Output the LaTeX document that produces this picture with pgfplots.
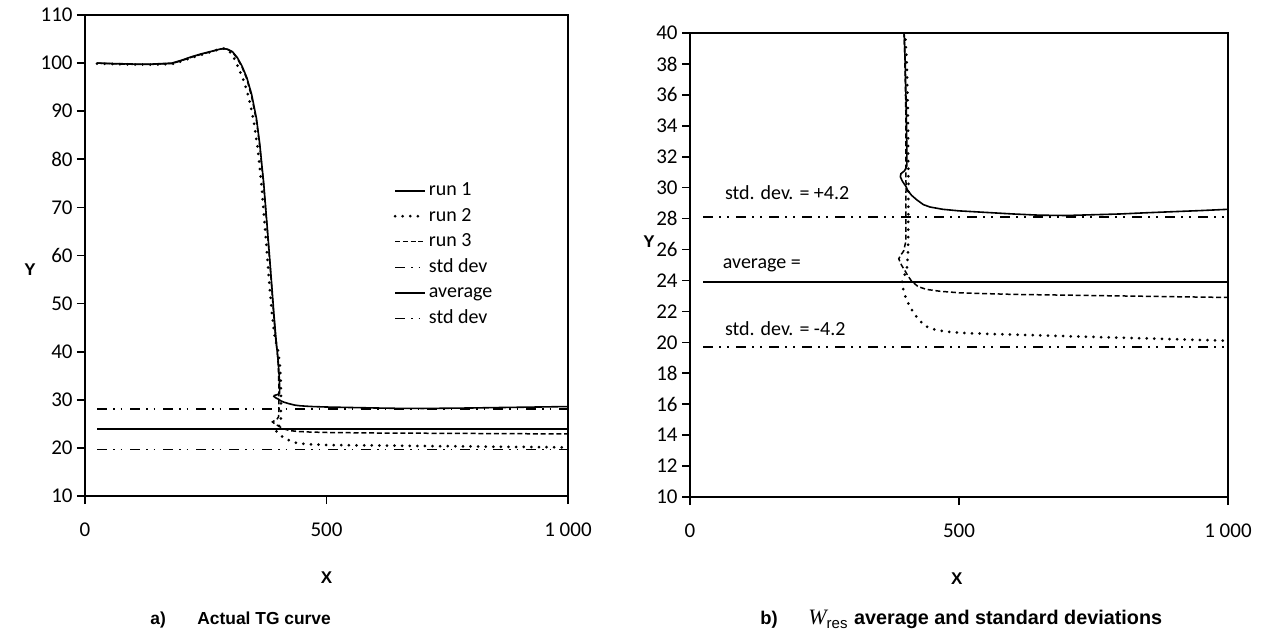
\documentclass[border=0pt]{standalone}
\usepackage{fontspec}
\setmainfont{Carlito}
\newfontfamily\arialf{Liberation Sans}
\newfontfamily\timesf{Liberation Serif}
\usepackage{pgfplots}
\usepackage{pgfplotstable}
\pgfplotsset{compat=1.18}

\pgfplotstableread{
x y
25 100.0
60 99.9
100 99.8
140 99.8
180 100.0
200 100.6
220 101.3
240 101.9
260 102.4
275 102.8
285 103.0
295 102.9
305 102.4
315 101.2
325 99.4
335 97.0
345 93.5
355 88.5
362 83.0
370 75.0
378 65.0
385 56.0
391 48.0
396 42.0
400 38.0
402 35.0
403 32.5
403 31.4
399 31.1
392 30.9
391 30.7
395 30.4
401 30.1
405 29.8
412 29.5
422 29.2
434 28.9
446 28.75
470 28.6
500 28.5
550 28.4
600 28.3
650 28.22
700 28.2
750 28.25
800 28.3
850 28.38
900 28.45
950 28.52
1000 28.6
}\runA

\pgfplotstableread{
x y
25 99.9
60 99.8
100 99.7
140 99.7
180 99.8
200 100.4
220 101.1
240 101.7
260 102.3
275 102.8
285 103.1
293 102.9
300 102.3
310 100.8
320 98.5
330 96.0
340 92.5
350 87.5
358 82.0
366 74.0
374 64.0
381 55.0
387 48.0
393 43.0
399 40.5
403 38.0
405 35.0
406 30.0
405.5 26.0
403 24.7
398 24.3
394 23.9
397 23.3
402 22.8
409 22.3
416 21.9
422 21.6
434 21.15
446 20.9
470 20.72
500 20.62
550 20.55
600 20.5
650 20.45
700 20.4
750 20.35
800 20.3
850 20.25
900 20.2
950 20.15
1000 20.1
}\runB

\pgfplotstableread{
x y
25 100.0
60 99.85
100 99.75
140 99.75
180 99.9
200 100.5
220 101.2
240 101.8
260 102.35
275 102.8
285 103.0
295 102.85
305 102.3
315 101.0
325 99.2
335 96.7
345 93.0
355 88.0
362 82.5
370 74.5
378 64.5
385 55.5
390 48.5
395 42.5
399 39.0
401 35.0
401.5 30.0
401 26.5
397 25.9
391 25.6
388 25.4
393 25.0
400 24.6
405 24.3
412 23.95
424 23.6
440 23.42
465 23.3
502 23.2
550 23.15
600 23.1
700 23.05
800 23.0
900 22.95
1000 22.9
}\runC

\pgfplotstableread{
x up avg lo
25 28.1 23.9 19.7
1000 28.1 23.9 19.7
}\stats

\tikzset{
  run1/.style={black, line width=0.8pt, solid},
  run2/.style={black, line width=1.5pt, line cap=round, dash pattern=on 0pt off 3.8pt},
  run3/.style={black, line width=0.75pt, dash pattern=on 2.5pt off 1.4pt},
  stdd/.style={black, line width=0.7pt, dash pattern=on 5pt off 3pt on 0.8pt off 3pt on 0.8pt off 3.9pt},
  avgl/.style={black, line width=0.8pt, solid},
}

\pgfplotsset{
  myaxis/.style={
    scale only axis,
    axis line style={black, line width=1pt},
    tick align=outside,
    tick style={black, line width=0.8pt},
    major tick length=4pt,
    xtick pos=bottom, ytick pos=left,
    xmin=0, xmax=1000,
    xtick={0,500,1000},
    xticklabels={0,500,1 000},
    ticklabel style={font=\fontsize{10.5}{12}\selectfont},
    yticklabel style={inner xsep=2pt},
    /pgf/number format/assume math mode=true,
    xticklabel style={yshift=-6pt},
    label style={font=\arialf\bfseries\fontsize{8.5}{10}\selectfont},
    xlabel={X}, ylabel={Y},
  }
}

\begin{document}
\begin{tikzpicture}
\useasboundingbox (0,0) rectangle (634pt,321.5pt);

% ---------- left panel ----------
\begin{axis}[myaxis,
  at={(42.5pt,73.5pt)}, anchor=south west,
  width=241.5pt, height=240.5pt,
  ymin=10, ymax=110, ytick={10,20,...,110},
  xlabel style={at={(axis description cs:0.5,-0.17)}, anchor=center},
  ylabel style={at={(axis description cs:-0.114,0.47)}, rotate=-90, anchor=center},
  legend style={draw=none, fill=none, at={(0.638,0.662)}, anchor=north west,
    font=\fontsize{10}{12}\selectfont, inner sep=0pt, row sep=0pt,
    nodes={inner xsep=1.2pt, inner ysep=1.9pt, text height=6.95pt, text depth=2pt}},
  legend cell align=left,
  legend image code/.code={\draw[#1] (0pt,0pt) -- (15pt,0pt);},
]
\addplot[run1] table[x=x,y=y] {\runA};
\addlegendentry{run 1}
\addplot[run2] table[x=x,y=y] {\runB};
\addlegendentry{run 2}
\addplot[run3] table[x=x,y=y] {\runC};
\addlegendentry{run 3}
\addplot[stdd] table[x=x,y=up] {\stats};
\addlegendentry{std dev}
\addplot[avgl] table[x=x,y=avg] {\stats};
\addlegendentry{average}
\addplot[stdd] table[x=x,y=lo] {\stats};
\addlegendentry{std dev}
\end{axis}

% ---------- right panel ----------
\begin{axis}[myaxis,
  at={(345pt,73pt)}, anchor=south west,
  width=269pt, height=232pt,
  ymin=10, ymax=40, ytick={10,12,...,40},
  xlabel style={at={(axis description cs:0.496,-0.175)}, anchor=center},
  ylabel style={at={(axis description cs:-0.076,0.55)}, rotate=-90, anchor=center},
]
\addplot[run1] table[x=x,y=y] {\runA};
\addplot[run2] table[x=x,y=y] {\runB};
\addplot[run3] table[x=x,y=y] {\runC};
\addplot[stdd] table[x=x,y=up] {\stats};
\addplot[avgl] table[x=x,y=avg] {\stats};
\addplot[stdd] table[x=x,y=lo] {\stats};
\node[anchor=west, font=\fontsize{10}{12}\selectfont] at (axis cs:52,29.7) {std. dev. = +4.2};
\node[anchor=west, font=\fontsize{10}{12}\selectfont] at (axis cs:48,25.0) {average =};
\node[anchor=west, font=\fontsize{10}{12}\selectfont] at (axis cs:52,20.9) {std. dev. = -4.2};
\end{axis}

% ---------- captions ----------
\node[anchor=base west, inner sep=0pt, font=\arialf\bfseries\fontsize{8.7}{10}\selectfont] at (75pt,9.5pt) {a)};
\node[anchor=base west, inner sep=0pt, font=\arialf\bfseries\fontsize{8.7}{10}\selectfont] at (98.5pt,9.5pt) {Actual TG curve};
\node[anchor=base west, inner sep=0pt, font=\arialf\bfseries\fontsize{9.2}{10}\selectfont] at (380pt,9.5pt) {b)};
\node[anchor=base west, inner sep=0pt, font=\arialf\bfseries\fontsize{9.9}{11}\selectfont] at (404pt,9.5pt)
  {{\timesf\mdseries\itshape\fontsize{11}{12}\selectfont W}\raisebox{-0.4ex}{\mdseries\fontsize{7.5}{8}\selectfont res}\hspace{0.05em} average and standard deviations};
\end{tikzpicture}
\end{document}
